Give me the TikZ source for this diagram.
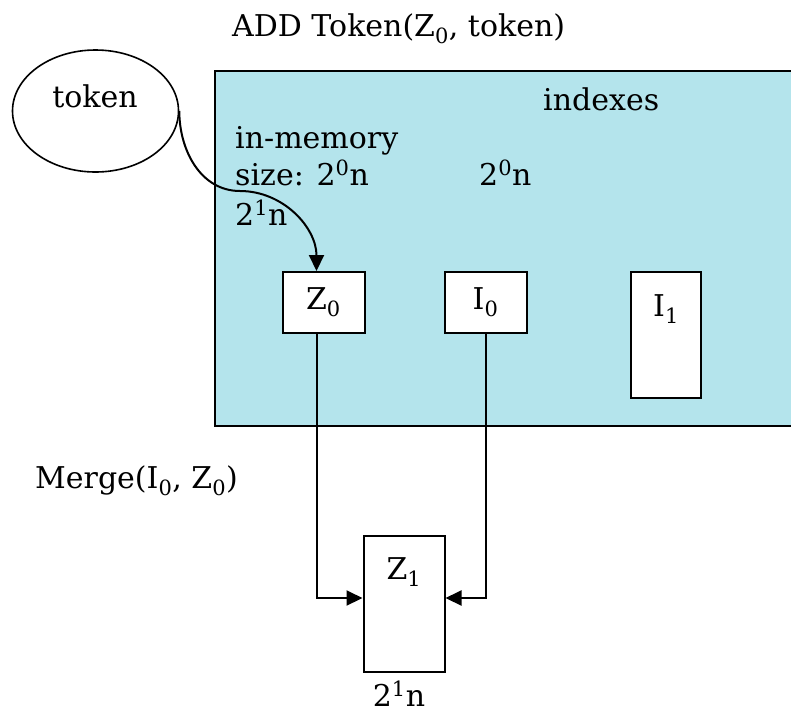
\documentclass[tikz,border=0pt]{standalone}
\usepackage{fontspec}
\setmainfont{DejaVu Serif}
\usetikzlibrary{shapes, arrows.meta, positioning}
\definecolor{memcyan}{RGB}{180,228,236}

\begin{document}
\begin{tikzpicture}[x=1pt, y=-1pt,
        every node/.style = {font=\fontsize{30}{36}\selectfont},
        panel/.style      = {draw, line width=2pt, fill=memcyan, anchor=north west, inner sep=0pt},
        box/.style        = {draw, line width=2pt, fill=white, inner sep=0pt},
        oval/.style       = {draw, ellipse, line width=1.6pt, inner sep=0pt},
        txt/.style        = {anchor=base west, inner sep=0pt},
        lab/.style        = {anchor=base, inner sep=0pt},
        arr/.style        = {-{Triangle[length=16pt,width=15pt]}, line width=2pt}]

    \useasboundingbox (0,0) rectangle (791,713);

    % the in-memory area
    \node[panel, minimum width=600pt, minimum height=355pt] (mem) at (214,70) {};
    \node[txt] (title) at (232,36) {ADD Token(Z\textsubscript{0}, token)};
    \node[txt] (idx) at (543,110) {indexes};
    \node[txt] (inmem) at (235,148) {in-memory};
    \node[txt] (size) at (235,185) {size: 2\textsuperscript{0}n};
    \node[txt] (sizeb) at (235,225) {2\textsuperscript{1}n};
    \node[txt] (sizei) at (479,185) {2\textsuperscript{0}n};

    % the token
    \node[oval, minimum width=166pt, minimum height=122pt] (tok) at (95.5,111) {};
    \node[lab] (toklab) at (95,107) {token};

    % the indexes
    \node[box, minimum width=82pt, minimum height=61pt] (z0) at (323.5,302.5) {Z\textsubscript{0}};
    \node[box, minimum width=82pt, minimum height=61pt] (i0) at (485.5,302.5) {I\textsubscript{0}};
    \node[box, minimum width=70pt, minimum height=126pt] (i1) at (666,335) {};
    \node[lab] (i1lab) at (666,316) {I\textsubscript{1}};

    % the merged index
    \node[txt] (merge) at (35,488) {Merge(I\textsubscript{0}, Z\textsubscript{0})};
    \node[box, minimum width=81pt, minimum height=136pt] (z1) at (404,604) {};
    \node[lab] (z1lab) at (404,579) {Z\textsubscript{1}};
    \node[lab] (z1size) at (399,706) {2\textsuperscript{1}n};

    % token into Z0, then Z0 and I0 into Z1
    \coordinate (bend) at (240,191);
    \draw[arr] (tok.east) to[out=-90, in=180] (bend) to[out=0, in=90] ([xshift=-7pt]z0.north);
    \draw[arr] ([xshift=-7pt]z0.south) |- ([yshift=6pt]z1.west);
    \draw[arr] (i0.south) |- ([yshift=6pt]z1.east);

\end{tikzpicture}
\end{document}
